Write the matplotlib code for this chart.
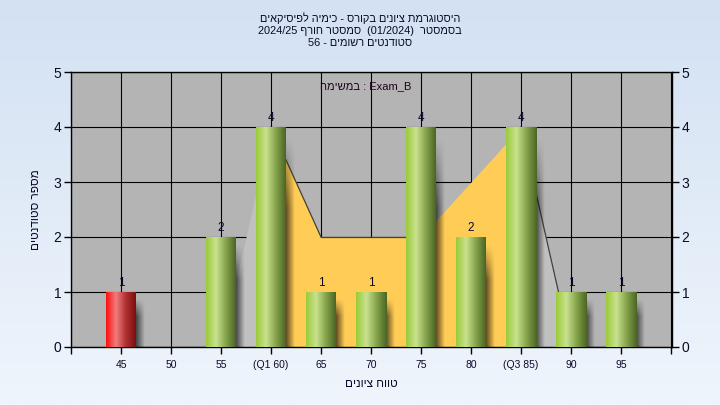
import numpy as np
import matplotlib
matplotlib.use('Agg')
import matplotlib.pyplot as plt
from matplotlib.colors import LinearSegmentedColormap

plt.rcParams['font.family'] = ['Liberation Sans', 'DejaVu Sans']

# Dados (textos hebraicos já em ordem visual, da esquerda para a direita)
grades = [45, 50, 55, 60, 65, 70, 75, 80, 85, 90, 95]
tick_labels = ['45', '50', '55', '(Q1 60)', '65', '70', '75', '80', '(Q3 85)', '90', '95']
counts = [1, 0, 2, 4, 1, 1, 4, 2, 4, 1, 1]
curve = [0, 0, 0, 4, 2, 2, 2, 3, 4, 0, 0]
q1_grade, q3_grade = 60, 85
pass_grade = 55

title_lines = ['םיאקיסיפל הימיכ - סרוקב םינויצ תמרגוטסיה',
               '2024/25 ףרוח רטסמס  (01/2024)  רטסמסב',
               '56 - םימושר םיטנדוטס']
task_text = 'המישמב : Exam_B'
x_title = 'םינויצ חווט'
y_title = 'םיטנדוטס רפסמ'

TXT = '#0a0a28'
x = np.arange(len(grades))

fig = plt.figure(figsize=(7.2, 4.05), dpi=100)

# fundo em degradê
bg = fig.add_axes([0, 0, 1, 1], zorder=-10)
bg_cmap = LinearSegmentedColormap.from_list('bg', ['#d3e1f3', '#eff5fc'])
bg.imshow(np.linspace(0, 1, 256).reshape(-1, 1), cmap=bg_cmap, aspect='auto',
          extent=[0, 1, 0, 1])
bg.axis('off')

ax = fig.add_axes([71 / 720, 58 / 405, 601 / 720, 275 / 405])
ax.set_facecolor('#b4b4b4')
ax.set_axisbelow(True)
ax.grid(True, color='black', linewidth=0.8, zorder=0)

# curva com área (amarela entre Q1 e Q3)
qi1, qi3 = grades.index(q1_grade), grades.index(q3_grade)
ax.fill_between(x, curve, 0, where=(x <= qi1), color='#c0c0c0', zorder=1, linewidth=0)
ax.fill_between(x, curve, 0, where=(x >= qi3), color='#c0c0c0', zorder=1, linewidth=0)
ax.fill_between(x, curve, 0, where=(x >= qi1) & (x <= qi3), color='#ffcc55',
                zorder=1.1, linewidth=0)
for i in range(len(x) - 1):
    if curve[i + 1] <= curve[i]:
        ax.plot(x[i:i + 2], curve[i:i + 2], color='#404040', lw=0.9, zorder=1.2)

# barras cilíndricas com sombra
green = LinearSegmentedColormap.from_list('g', ['#9acb3a', '#c9e28f', '#86a44c', '#4b6624'])
red = LinearSegmentedColormap.from_list('r', ['#ff1010', '#f07c7c', '#b03030', '#7a1010'])
ramp = np.linspace(0, 1, 64).reshape(1, -1)
shadow = np.zeros((16, 32, 4))
shadow[:, :, 3] = np.linspace(0.7, 0.0, 32)[None, :] * np.minimum(1, np.linspace(0, 3, 16))[:, None]
w = 0.6
for xi, g, c in zip(x, grades, counts):
    if c == 0:
        continue
    ax.imshow(shadow, aspect='auto', zorder=2, interpolation='bilinear',
              extent=[xi + w / 2 - 0.02, xi + w / 2 + 0.18, -0.1, c - 0.1])
    cmap = red if g < pass_grade else green
    ax.imshow(ramp, cmap=cmap, aspect='auto', zorder=3, interpolation='bilinear',
              extent=[xi - w / 2, xi + w / 2, 0, c])
    ax.annotate(str(c), (xi, c), xytext=(0, 2), textcoords='offset points',
                ha='center', va='bottom', fontsize=8.5, color=TXT, zorder=4)

ax.set_xlim(-1, 11.02)
ax.set_ylim(0, 5)
ax.set_xticks(np.arange(-1, 12))
ax.set_xticklabels([''] + tick_labels + [''])
ax.set_yticks(range(6))
ax.tick_params(axis='x', length=5, width=1, labelsize=7.5, labelcolor=TXT, pad=4)
ax.tick_params(axis='y', length=5, width=1, labelsize=10, labelcolor=TXT, pad=2,
               right=True, labelright=True)
for s in ax.spines.values():
    s.set_linewidth(1.0)

ax.text(0.49, 0.95, task_text, transform=ax.transAxes, ha='center', va='center',
        fontsize=8, color='#200020')
ax.set_xlabel(x_title, fontsize=8.5, color=TXT, labelpad=6)
ax.set_ylabel(y_title, fontsize=8.5, color=TXT, labelpad=8)

for i, line in enumerate(title_lines):
    fig.text(0.5, 1 - (18 + 12.5 * i) / 405, line, ha='center', va='center',
             fontsize=7.9, color=TXT)

plt.savefig('out.png', dpi=100)
